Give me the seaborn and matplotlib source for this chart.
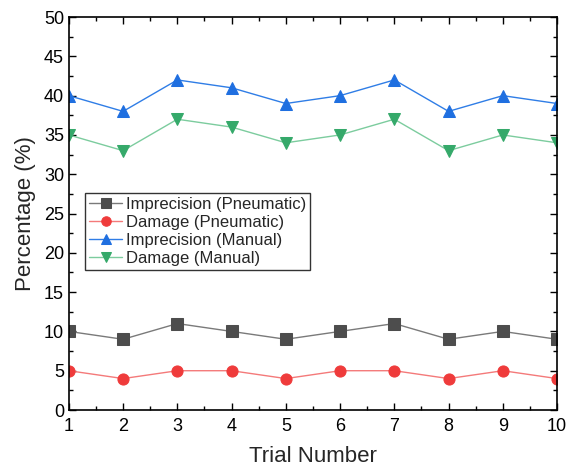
import matplotlib
matplotlib.use("Agg")
import matplotlib.pyplot as plt
import seaborn as sns
import pandas as pd
from matplotlib.ticker import MultipleLocator

trials = [1, 2, 3, 4, 5, 6, 7, 8, 9, 10]
imprecision_pneumatic = [10, 9, 11, 10, 9, 10, 11, 9, 10, 9]
damage_pneumatic = [5, 4, 5, 5, 4, 5, 5, 4, 5, 4]
imprecision_manual = [40, 38, 42, 41, 39, 40, 42, 38, 40, 39]
damage_manual = [35, 33, 37, 36, 34, 35, 37, 33, 35, 34]

labels = ["Imprecision (Pneumatic)", "Damage (Pneumatic)",
          "Imprecision (Manual)", "Damage (Manual)"]
series = [imprecision_pneumatic, damage_pneumatic, imprecision_manual, damage_manual]
marker_colors = ["#4d4d4d", "#ef3b3b", "#1f6fe0", "#35a96a"]
line_colors = ["#7a7a7a", "#f47a7a", "#2f7de6", "#7ccc9e"]
markers = ["s", "o", "^", "v"]

sns.set_theme(style="ticks")
plt.rcParams['font.family'] = ['Liberation Sans', 'DejaVu Sans']

fig = plt.figure(figsize=(5.69, 4.74), dpi=100)
ax = fig.add_axes([0.121, 0.135, 0.858, 0.829])

for lab, vals, mc, lc, mk in zip(labels, series, marker_colors, line_colors, markers):
    df = pd.DataFrame({"Trial": trials, "Value": vals})
    sns.lineplot(data=df, x="Trial", y="Value", ax=ax, color=lc, linewidth=1.0,
                 marker=mk, markersize=8, markerfacecolor=mc, markeredgecolor=mc,
                 label=lab)

ax.set_xlim(1, 10)
ax.set_ylim(0, 50)
ax.xaxis.set_major_locator(MultipleLocator(1))
ax.xaxis.set_minor_locator(MultipleLocator(0.5))
ax.yaxis.set_major_locator(MultipleLocator(5))
ax.yaxis.set_minor_locator(MultipleLocator(2.5))
ax.tick_params(which="both", direction="in", top=True, right=True, colors="black",
               labelsize=13)
ax.tick_params(which="major", length=5, width=1)
ax.tick_params(which="minor", length=3, width=1)
ax.tick_params(axis="x", pad=6)
for s in ax.spines.values():
    s.set_color("black")
    s.set_linewidth(1.2)

ax.set_xlabel("Trial Number", fontsize=16, labelpad=8)
ax.set_ylabel("Percentage (%)", fontsize=16, labelpad=6)

leg = ax.legend(loc="upper left", bbox_to_anchor=(0.033, 0.552), fontsize=12,
                frameon=True, fancybox=False, edgecolor="black", borderpad=0.25,
                handlelength=2.0, handletextpad=0.2, labelspacing=0.18,
                borderaxespad=0, markerscale=0.85)
leg.get_frame().set_linewidth(1.0)

fig.savefig("out.png", dpi=100)
